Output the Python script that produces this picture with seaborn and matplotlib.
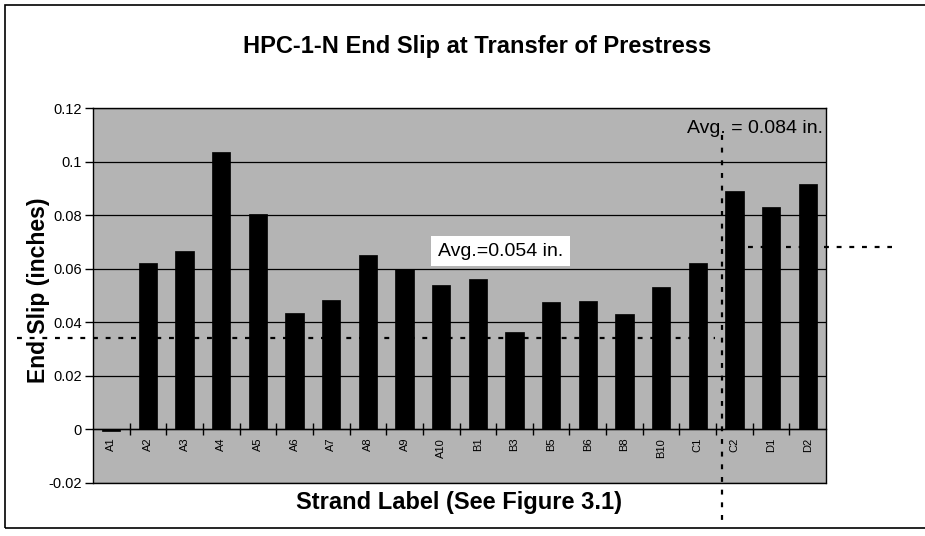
import matplotlib
matplotlib.use('Agg')
import matplotlib.pyplot as plt
import seaborn as sns
import pandas as pd
from matplotlib.patches import Rectangle
from matplotlib.lines import Line2D

# ---- data ----
strands = ['A1', 'A2', 'A3', 'A4', 'A5', 'A6', 'A7', 'A8', 'A9', 'A10',
           'B1', 'B3', 'B5', 'B6', 'B8', 'B10', 'C1', 'C2', 'D1', 'D2']
end_slip = [-0.0007, 0.062, 0.0665, 0.1035, 0.0805, 0.0435, 0.0485, 0.065, 0.060, 0.054,
            0.056, 0.0365, 0.0475, 0.048, 0.043, 0.053, 0.062, 0.089, 0.083, 0.0915]
y_ticks = [-0.02, 0, 0.02, 0.04, 0.06, 0.08, 0.1, 0.12]
y_tick_labels = ['-0.02', '0', '0.02', '0.04', '0.06', '0.08', '0.1', '0.12']
title = 'HPC-1-N End Slip at Transfer of Prestress'
x_label = 'Strand Label (See Figure 3.1)'
y_label = 'End Slip (inches)'
avg_ab_label = 'Avg.=0.054 in.'
avg_cd_label = 'Avg. = 0.084 in.'

# hand-drawn dotted annotation lines (data coordinates)
dotted_left_y = 0.0341
dotted_left_x = (-2.57, 16.47)
dotted_right_y = 0.0681
dotted_right_x = (17.37, 21.30)
dotted_vert_x = 16.66
dotted_vert_y = (0.1099, -0.0346)

sns.set_theme(style='white')
plt.rcParams['font.family'] = ['Liberation Sans', 'DejaVu Sans']
plt.rcParams.update({'text.color': 'black', 'axes.labelcolor': 'black',
                     'xtick.color': 'black', 'ytick.color': 'black'})

fig = plt.figure(figsize=(9.25, 5.36), dpi=100)
ax = fig.add_axes([93 / 925, 1 - 483 / 536, 733 / 925, 375 / 536])

df = pd.DataFrame({'strand': strands, 'slip': end_slip})
sns.barplot(data=df, x='strand', y='slip', color='black', width=0.5,
            saturation=1, edgecolor='black', linewidth=0.5, ax=ax)

ax.set_xlim(-0.5, len(strands) - 0.5)
ax.set_ylim(-0.02, 0.12)
ax.set_facecolor('#b4b4b4')
ax.set_axisbelow(True)
ax.set_yticks(y_ticks)
ax.set_yticklabels(y_tick_labels)
ax.yaxis.grid(True, color='black', linewidth=0.9)
ax.xaxis.grid(False)

for s in ax.spines.values():
    s.set_visible(True)
    s.set_color('black')
    s.set_linewidth(1.0)
ax.spines['bottom'].set_position(('data', 0))
ax.axhline(-0.02, color='black', linewidth=1.0, clip_on=False)

ax.set_xticks(range(len(strands)))
ax.set_xticklabels(strands)
ax.set_xticks([i + 0.5 for i in range(len(strands) - 1)], minor=True)
ax.tick_params(axis='x', which='major', length=0, pad=6, labelsize=8,
               labelrotation=90)
ax.tick_params(axis='x', which='minor', length=8, width=1, direction='inout',
               color='black', bottom=True)
ax.tick_params(axis='y', which='major', length=6, width=1, direction='out',
               color='black', left=True, labelsize=10.5, pad=2)

ax.set_xlabel(x_label, fontsize=17, fontweight='bold')
ax.xaxis.set_label_coords(0.5, -0.022)
ax.set_ylabel(y_label, fontsize=16.5, fontweight='bold')
ax.yaxis.set_label_coords(-0.058, 0.515)

fig.text(477 / 925, 1 - 47 / 536, title, ha='center', va='center',
         fontsize=17, fontweight='bold')

ax.text(10.63, 0.0666, avg_ab_label, ha='center', va='center', fontsize=14,
        bbox=dict(facecolor='white', edgecolor='none',
                  boxstyle='square,pad=0.35'), zorder=5)
ax.text(0.996, 0.1125, avg_cd_label, ha='right', va='center', fontsize=14,
        transform=ax.get_yaxis_transform(), zorder=5)

dot_style = dict(color='black', linewidth=1.6, linestyle=(0, (2.2, 3.5)),
                 clip_on=False, zorder=6)
ax.add_line(Line2D(dotted_left_x, [dotted_left_y] * 2, **dot_style))
ax.add_line(Line2D(dotted_right_x, [dotted_right_y] * 2, **dot_style))
ax.add_line(Line2D([dotted_vert_x] * 2, dotted_vert_y, **dot_style))

fig.add_artist(Rectangle((5 / 925, 1 - 528 / 536), 1.0, 523 / 536,
                         transform=fig.transFigure, fill=False,
                         edgecolor='black', linewidth=1.2, clip_on=False))

fig.savefig('out.png', dpi=100)
